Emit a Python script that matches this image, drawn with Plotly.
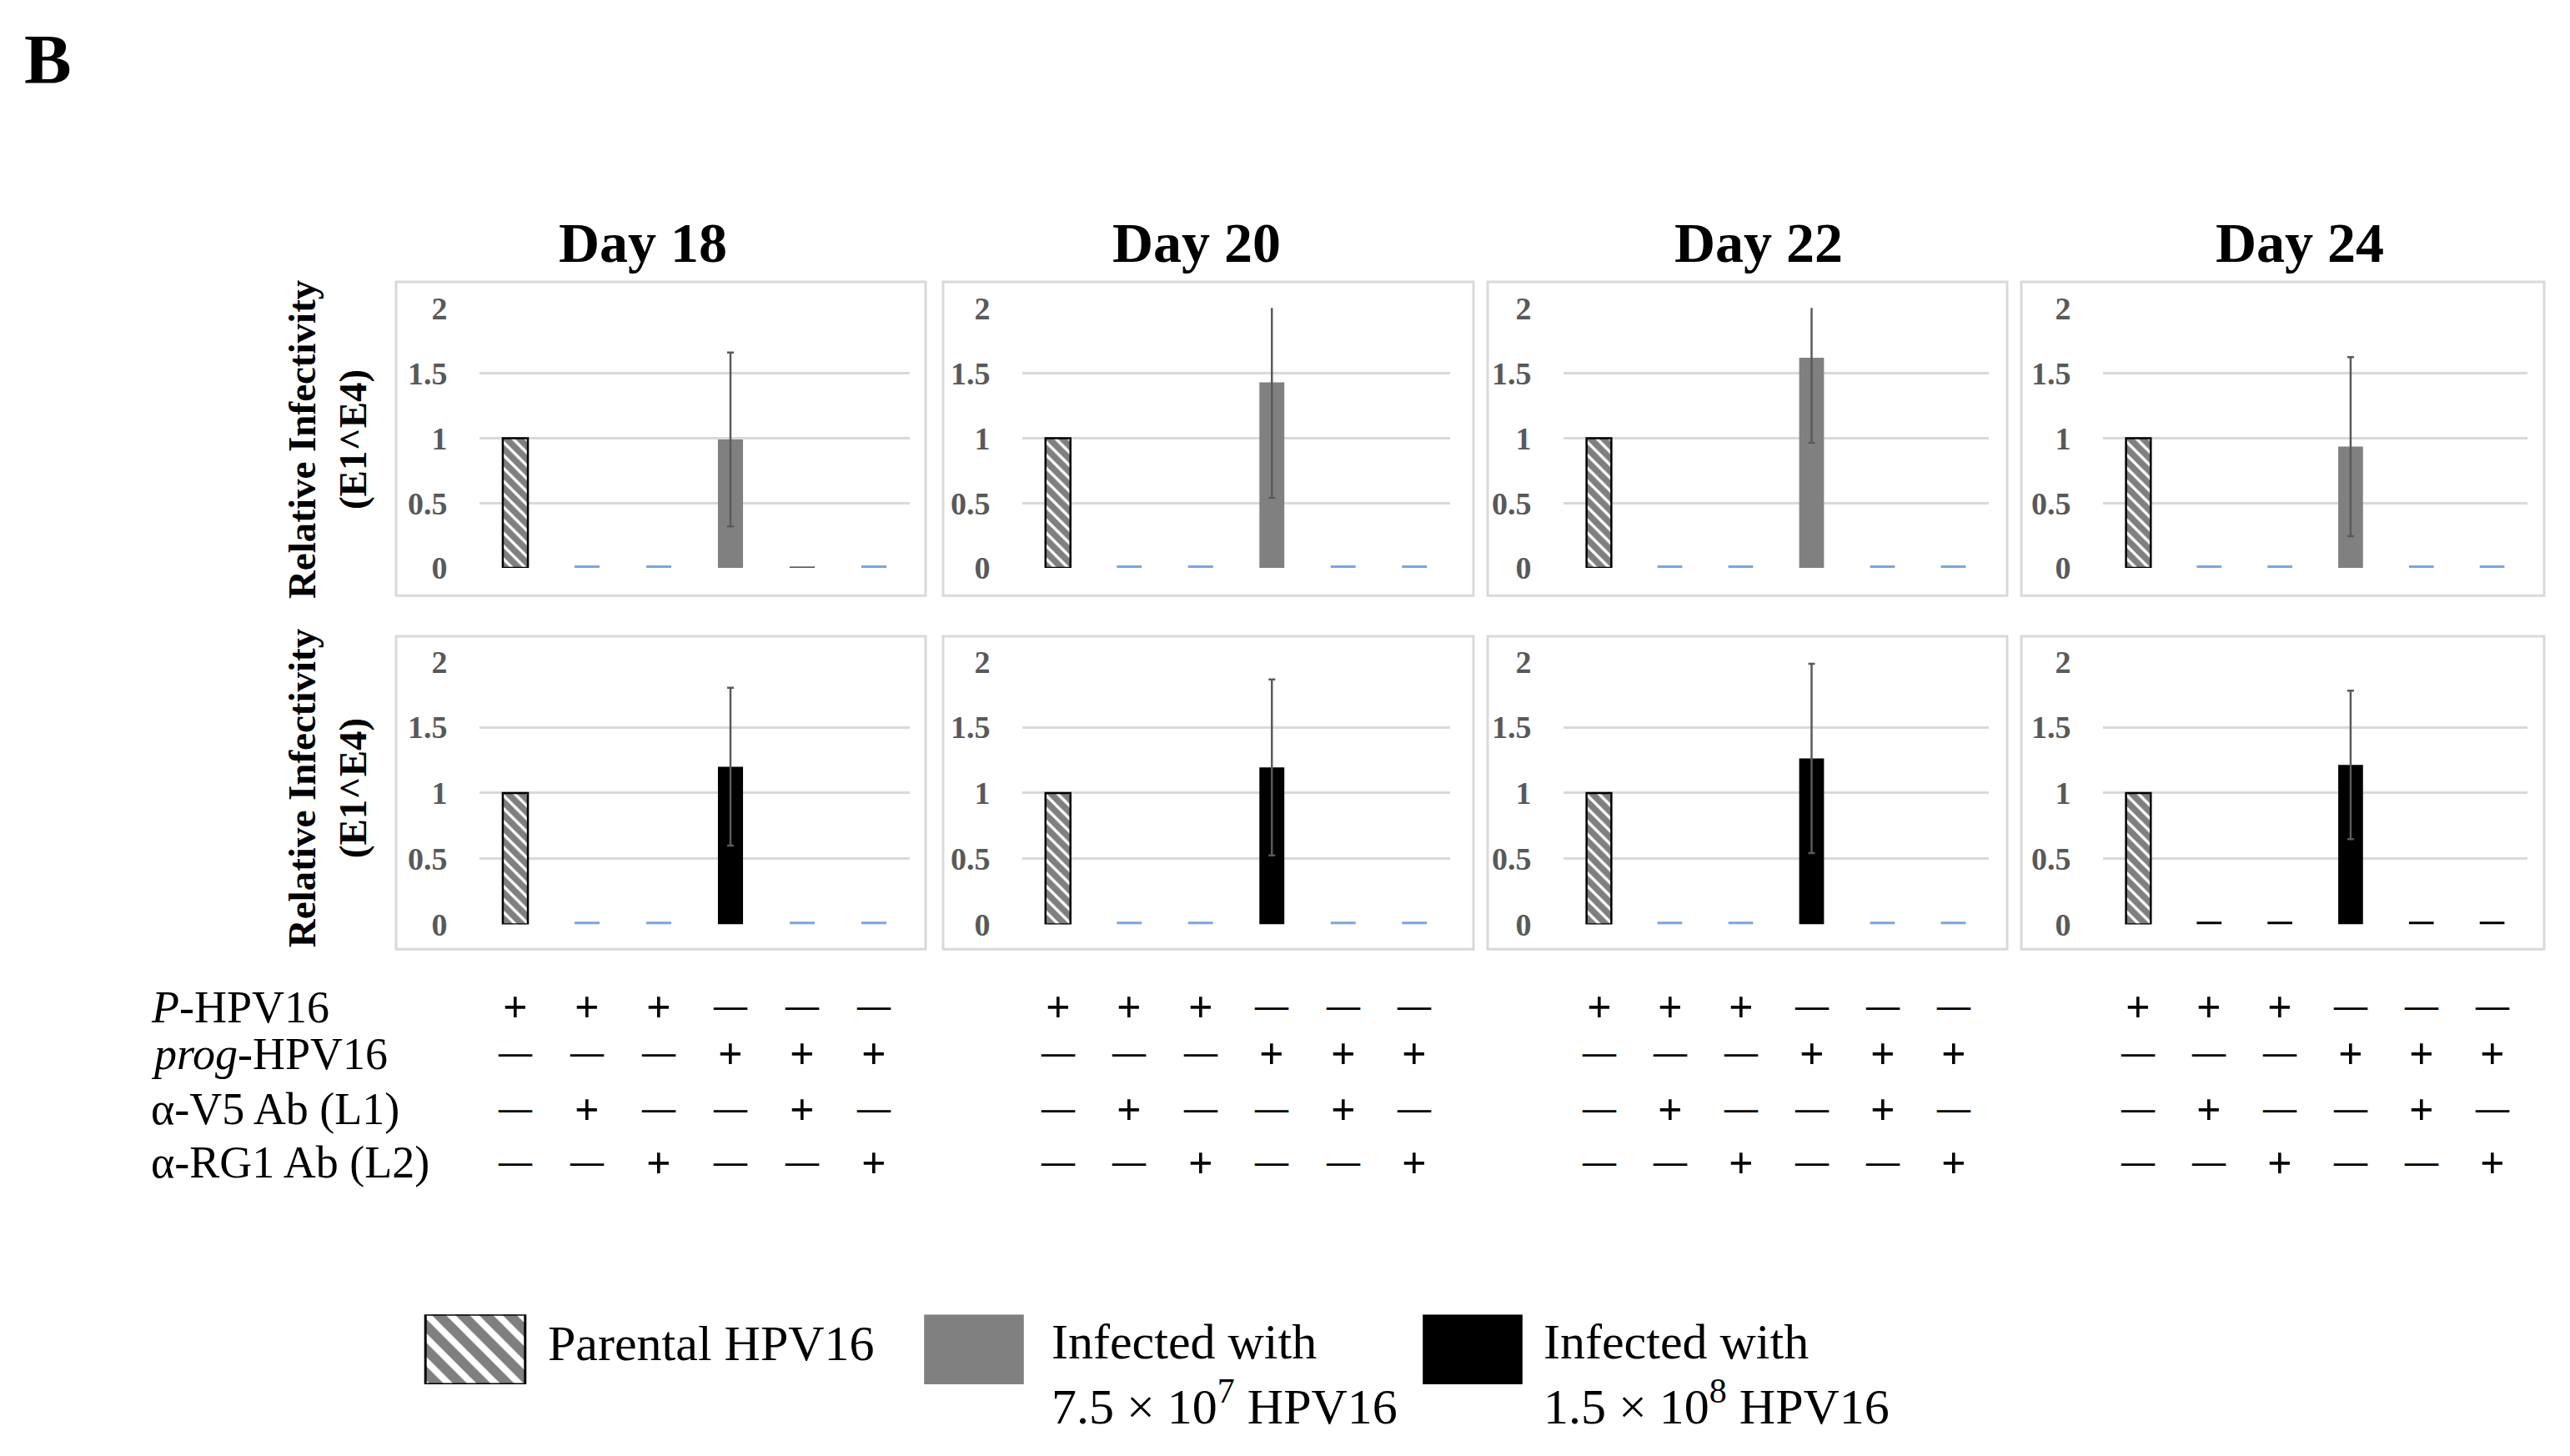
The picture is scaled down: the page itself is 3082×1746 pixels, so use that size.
import plotly.graph_objects as go

# ---------------- data ----------------
days = ["Day 18", "Day 20", "Day 22", "Day 24"]
conditions = ["P", "P+V5", "P+RG1", "prog", "prog+V5", "prog+RG1"]

# Row labels of the treatment table and their +/- entries (per condition)
row_labels = ["<i>P</i>-HPV16", "<i>prog</i>-HPV16", "α-V5 Ab (L1)", "α-RG1 Ab (L2)"]
p_hpv16 = ["+", "+", "+", "−", "−", "−"]
prog_hpv16 = ["−", "−", "−", "+", "+", "+"]
v5_ab = ["−", "+", "−", "−", "+", "−"]
rg1_ab = ["−", "−", "+", "−", "−", "+"]

# Relative infectivity (E1^E4), infected with 7.5e7 HPV16 (top row)
low_d18 = [1.00, 0.02, 0.02, 0.99, 0.01, 0.02]
low_d20 = [1.00, 0.02, 0.02, 1.43, 0.02, 0.02]
low_d22 = [1.00, 0.02, 0.02, 1.62, 0.02, 0.02]
low_d24 = [1.00, 0.02, 0.02, 0.935, 0.02, 0.02]
low_err = [0.67, 0.89, 0.655, 0.69]

# Relative infectivity (E1^E4), infected with 1.5e8 HPV16 (bottom row)
high_d18 = [1.00, 0.02, 0.02, 1.20, 0.02, 0.02]
high_d20 = [1.00, 0.02, 0.02, 1.195, 0.02, 0.02]
high_d22 = [1.00, 0.02, 0.02, 1.263, 0.02, 0.02]
high_d24 = [1.00, 0.02, 0.02, 1.214, 0.02, 0.02]
high_err = [0.60, 0.67, 0.72, 0.565]

legend_labels = ["Parental HPV16",
                 "Infected with<br>7.5 × 10<sup>7</sup> HPV16",
                 "Infected with<br>1.5 × 10<sup>8</sup> HPV16"]

# ---------------- style ----------------
W, H = 3082, 1746
FONT = "Liberation Serif, Times New Roman, serif"
GRID = "#D9D9D9"
GRAY = "#808080"
BLACK = "#000000"
TINY_BLUE = "#7AA6DC"
small_colors_top = [[TINY_BLUE, TINY_BLUE, "#595959", TINY_BLUE],
                    [TINY_BLUE] * 4, [TINY_BLUE] * 4, [TINY_BLUE] * 4]
small_colors_bot = [[TINY_BLUE] * 4, [TINY_BLUE] * 4, [TINY_BLUE] * 4, [BLACK] * 4]

# page placement compensation (target pixel -> paper fraction)
OX, OY, SY = 8.0, 24.6, 0.981


def X(px):
    return (px - OX) / W


def Y(py):
    return 1 - ((py - OY) / SY) / H


plot_x = [(575, 1091), (1226, 1739), (1875, 2385), (2522, 3031)]
row_y = [(367.5, 680.7), (793, 1110)]
boxes_x = [(475, 1110), (1131, 1767), (1784, 2407), (2424, 3051)]
boxes_y = [(336, 714), (763, 1140)]
title_x = [771, 1435, 2109, 2758]

fig = go.Figure()
layout = dict(width=W, height=H, margin=dict(l=0, r=0, t=0, b=0),
              paper_bgcolor="white", plot_bgcolor="white",
              showlegend=False, barmode="overlay",
              font=dict(family=FONT, color="black"))

rows = [([low_d18, low_d20, low_d22, low_d24], low_err, GRAY, small_colors_top),
        ([high_d18, high_d20, high_d22, high_d24], high_err, BLACK, small_colors_bot)]

hatch = dict(shape="\\", fgcolor="black", bgcolor="white", size=11, solidity=0.7,
             fillmode="overlay")

for r, (vals_list, errs, main_col, small_cols) in enumerate(rows):
    for c in range(4):
        n = r * 4 + c + 1
        xa, ya = ("x" if n == 1 else f"x{n}"), ("y" if n == 1 else f"y{n}")
        vals = vals_list[c]
        # parental (hatched)
        fig.add_trace(go.Bar(x=[conditions[0]], y=[vals[0]], xaxis=xa, yaxis=ya, width=0.35,
                             marker=dict(color="white", pattern=hatch,
                                         line=dict(color="black", width=2.5))))
        # near-zero bars
        idx = [1, 2, 4, 5]
        fig.add_trace(go.Bar(x=[conditions[i] for i in idx], y=[vals[i] for i in idx],
                             xaxis=xa, yaxis=ya, width=0.35,
                             marker=dict(color=small_cols[c], line=dict(width=0))))
        # infected prog bar with error
        fig.add_trace(go.Bar(x=[conditions[3]], y=[vals[3]], xaxis=xa, yaxis=ya, width=0.35,
                             marker=dict(color=main_col, line=dict(width=0)),
                             error_y=dict(type="data", array=[errs[c]], visible=True,
                                          color="#5A5A5A", thickness=2.5, width=4)))
        x0, x1 = plot_x[c]
        y0, y1 = row_y[r]
        sfx = "" if n == 1 else str(n)
        layout["xaxis" + sfx] = dict(domain=[X(x0), X(x1)], anchor=ya, type="category",
                                     categoryorder="array", categoryarray=conditions,
                                     range=[-0.5, 5.5], showticklabels=False, showgrid=False,
                                     zeroline=False, showline=False, ticks="", fixedrange=True)
        layout["yaxis" + sfx] = dict(domain=[Y(y1), Y(y0)], anchor=xa, range=[0, 2.003],
                                     tickvals=[0, 0.5, 1, 1.5, 2],
                                     ticktext=["0", "0.5", "1", "1.5", "2"],
                                     showgrid=True, gridcolor=GRID, gridwidth=3,
                                     zeroline=False, showline=False,
                                     ticks="outside", tickcolor="rgba(0,0,0,0)", ticklen=30,
                                     tickfont=dict(family=FONT, size=38, color="#595959",
                                                   weight="bold"),
                                     fixedrange=True)

# legend swatches on an auxiliary axis
leg_styles = [dict(color="white", pattern=dict(shape="\\", fgcolor="black", bgcolor="white",
                                               size=20, solidity=0.6, fillmode="overlay"),
                   line=dict(color="black", width=3)),
              dict(color=GRAY, line=dict(width=0)),
              dict(color=BLACK, line=dict(width=0))]
for i in range(3):
    fig.add_trace(go.Bar(x=[i], y=[1], xaxis="x9", yaxis="y9", width=0.2, marker=leg_styles[i]))
layout["xaxis9"] = dict(domain=[X(271), X(2065)], anchor="y9", range=[-0.5, 2.5], visible=False,
                        fixedrange=True)
layout["yaxis9"] = dict(domain=[Y(1664), Y(1580)], anchor="x9", range=[0, 1], visible=False,
                        fixedrange=True)

annotations = []
shapes = []
# panel frames
for r in range(2):
    for c in range(4):
        bx0, bx1 = boxes_x[c]
        by0, by1 = boxes_y[r]
        shapes.append(dict(type="rect", xref="paper", yref="paper", x0=X(bx0), x1=X(bx1),
                           y0=Y(by1), y1=Y(by0), line=dict(color=GRID, width=3),
                           layer="below"))
# titles
for c, d in enumerate(days):
    annotations.append(dict(text=f"<b>{d}</b>", x=X(title_x[c]), y=Y(289), xref="paper",
                            yref="paper", showarrow=False, xanchor="center", yanchor="middle",
                            font=dict(size=68, family=FONT, color="black")))
# panel letter
annotations.append(dict(text="<b>B</b>", x=X(27), y=Y(68), xref="paper", yref="paper",
                        showarrow=False, xanchor="left", yanchor="middle",
                        font=dict(size=85, family=FONT, color="black")))
# y-axis titles
for r, yc in enumerate([526, 946]):
    annotations.append(dict(text="<b>Relative Infectivity<br>(E1^E4)</b>", x=X(392), y=Y(yc),
                            xref="paper", yref="paper", showarrow=False, textangle=-90,
                            xanchor="center", yanchor="middle",
                            font=dict(size=47, family=FONT, color="black")))
# treatment table
table_rows = [p_hpv16, prog_hpv16, v5_ab, rg1_ab]
row_centers = [1210, 1266, 1333, 1397]
for k, lab in enumerate(row_labels):
    annotations.append(dict(text=lab, x=X(179), y=Y(row_centers[k]), xref="paper",
                            yref="paper", showarrow=False, xanchor="left", yanchor="middle",
                            font=dict(size=54, family=FONT, color="black")))
    for c in range(4):
        n = 4 + c + 1
        for i, s in enumerate(table_rows[k]):
            if s == "+":
                annotations.append(dict(text="<b>+</b>", x=conditions[i], y=Y(row_centers[k]),
                                        xref=f"x{n}", yref="paper", showarrow=False,
                                        xanchor="center", yanchor="middle",
                                        font=dict(size=52, family=FONT, color="black")))
            else:
                annotations.append(dict(text="<b>—</b>", x=conditions[i], y=Y(row_centers[k] - 2),
                                        xref=f"x{n}", yref="paper", showarrow=False,
                                        xanchor="center", yanchor="middle",
                                        font=dict(size=40, family=FONT, color="black")))
# legend texts
leg_text_x = [655, 1259, 1849]
leg_text_y = [1615, 1652, 1652]
for i, lab in enumerate(legend_labels):
    annotations.append(dict(text=lab, x=X(leg_text_x[i]), y=Y(leg_text_y[i]), xref="paper",
                            yref="paper", showarrow=False, xanchor="left", yanchor="middle",
                            align="left", font=dict(size=60, family=FONT, color="black")))

layout["annotations"] = annotations
layout["shapes"] = shapes
fig.update_layout(**layout)
fig.write_html("out.html")
